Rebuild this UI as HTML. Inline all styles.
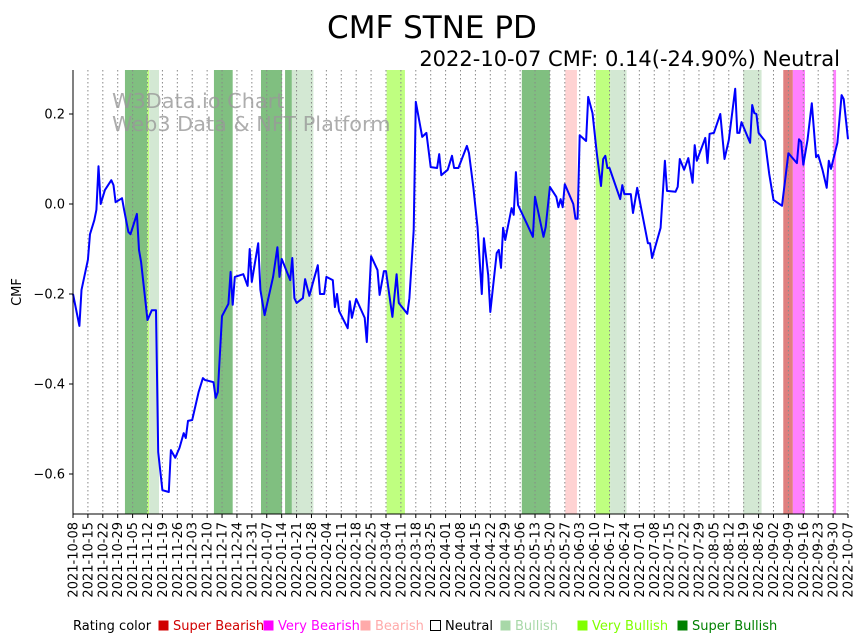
<!DOCTYPE html>
<html><head><meta charset="utf-8"><style>
body{margin:0;background:#fff;width:864px;height:641px;overflow:hidden;font-family:"DejaVu Sans","Liberation Sans",sans-serif}
svg{display:block}
</style></head><body>
<svg id="chart" width="864" height="641" xmlns="http://www.w3.org/2000/svg" font-family="DejaVu Sans, Liberation Sans, sans-serif">
<text x="432" y="38" text-anchor="middle" font-size="31">CMF STNE PD</text>
<text x="840" y="66" text-anchor="end" font-size="21">2022-10-07 CMF: 0.14(-24.90%) Neutral</text>
<g id="bands"></g>
<g id="grid"></g>
<text x="112" y="108" font-size="20.8" fill="#999" fill-opacity="0.8">W3Data.io Chart</text>
<text x="112" y="131" font-size="20.8" fill="#999" fill-opacity="0.8">Web3 Data &amp; NFT Platform</text>
<path id="line" fill="none" stroke="#0000ff" stroke-width="2" stroke-linejoin="round"/>
<g id="axes"></g>
<text transform="translate(21,292) rotate(-90)" text-anchor="middle" font-size="13">CMF</text>
<g id="legend"></g>
</svg>
<script>
const days=[0,3,4,7,8,10,11,12,13,15,18,19,20,23,24,26,27,30,31,32,35,37,39,40,42,45,46,48,50,52,53,54,56,59,61,62,66,67,68,70,73,74,75,76,80,82,83,84,87,88,90,94,96,97,98,102,103,104,105,108,109,111,115,116,118,119,122,123,124,125,129,130,131,133,137,138,140,143,144,146,147,150,152,153,157,158,160,161,164,166,168,171,172,173,176,178,179,181,185,186,188,190,192,193,195,196,199,200,201,202,203,206,207,208,209,213,216,217,221,222,224,227,228,229,230,231,235,236,237,238,241,242,244,246,248,249,250,251,252,257,258,259,262,263,265,270,271,272,276,278,279,283,284,285,287,289,291,292,293,297,298,299,301,304,306,308,311,312,313,314,318,319,320,321,322,325,327,329,333,336,340,341,342,343,345,347,349,350,352,354,355,356,359,361,362,364];
const cmf=[-0.2,-0.271,-0.191,-0.124,-0.067,-0.036,-0.013,0.084,0.0,0.031,0.053,0.042,0.004,0.013,-0.013,-0.062,-0.067,-0.022,-0.102,-0.129,-0.258,-0.236,-0.236,-0.551,-0.636,-0.64,-0.547,-0.564,-0.542,-0.509,-0.52,-0.482,-0.48,-0.418,-0.387,-0.391,-0.396,-0.431,-0.418,-0.249,-0.222,-0.151,-0.224,-0.162,-0.156,-0.182,-0.1,-0.173,-0.087,-0.191,-0.247,-0.162,-0.096,-0.162,-0.122,-0.169,-0.12,-0.209,-0.22,-0.209,-0.167,-0.204,-0.136,-0.2,-0.2,-0.162,-0.169,-0.229,-0.2,-0.238,-0.276,-0.216,-0.253,-0.211,-0.253,-0.307,-0.116,-0.147,-0.202,-0.149,-0.149,-0.251,-0.156,-0.22,-0.244,-0.209,-0.058,0.227,0.149,0.158,0.082,0.08,0.111,0.064,0.076,0.107,0.08,0.08,0.129,0.113,0.038,-0.051,-0.2,-0.076,-0.158,-0.24,-0.109,-0.102,-0.142,-0.053,-0.08,-0.009,-0.024,0.071,-0.002,-0.042,-0.073,0.016,-0.073,-0.051,0.038,0.016,-0.007,0.011,-0.007,0.044,0.0,-0.033,-0.033,0.153,0.14,0.238,0.202,0.113,0.04,0.1,0.107,0.08,0.08,0.011,0.042,0.022,0.022,-0.02,0.036,-0.087,-0.087,-0.12,-0.053,0.096,0.029,0.027,0.038,0.1,0.076,0.102,0.047,0.131,0.096,0.147,0.091,0.156,0.158,0.2,0.1,0.142,0.256,0.158,0.158,0.182,0.136,0.22,0.202,0.2,0.158,0.14,0.067,0.009,-0.004,0.113,0.091,0.144,0.138,0.087,0.142,0.224,0.104,0.109,0.076,0.036,0.096,0.078,0.136,0.242,0.233,0.144];
const bandStart=[24.4,34.8,35.8,66.2,88.3,99.6,102.8,147.3,210.8,231.2,245.5,252.3,314.8,333.6,338.1,357.1];
const bandEnd=[34.8,35.8,40.4,75.0,98.2,102.8,112.9,155.9,224.0,236.7,252.3,260.0,323.4,338.1,343.8,358.4];
const bandColor=["#80bf80","#bfff80","#d3e8d3","#80bf80","#80bf80","#80bf80","#d3e8d3","#bfff80","#80bf80","#ffd2d2","#bfff80","#d3e8d3","#d3e8d3","#e07f7f","#ff80ff","#ff80ff"];
const yTicks=[0.2,0.0,-0.2,-0.4,-0.6];
const yTickLabels=["0.2","0.0","\u22120.2","\u22120.4","\u22120.6"];
const legendLabels=["Super Bearish","Very Bearish","Bearish","Neutral","Bullish","Very Bullish","Super Bullish"];
const legendColors=["#d00000","#ff00ff","#ffaaaa","#ffffff","#a8d8a8","#80ff00","#008000"];
const legendX=[158,263,360,430,500,577,677];

const NS="http://www.w3.org/2000/svg";
const X0=73,X1=848,Y0=70,Y1=514;
const xs=d=>X0+d*(X1-X0)/364;
const ys=v=>204-v*450;
function mk(tag,attrs,parent){const e=document.createElementNS(NS,tag);for(const k in attrs)e.setAttribute(k,attrs[k]);parent.appendChild(e);return e;}
const bands=document.getElementById('bands');
bandStart.forEach((s,i)=>{const r=mk('rect',{x:xs(s),y:Y0,width:xs(bandEnd[i])-xs(s),height:Y1-Y0,fill:bandColor[i]},bands);

});
const grid=document.getElementById('grid');const axes=document.getElementById('axes');
const start=new Date(Date.UTC(2021,9,8));
for(let w=0;w<=52;w++){const d=w*7;const x=xs(d);
const gl=mk('line',{x1:x,x2:x,y1:Y0,y2:Y1,stroke:'#888','stroke-width':1,'stroke-dasharray':'1.5,2.5'},grid);


const tk=mk('line',{x1:x,x2:x,y1:Y1,y2:Y1+4,stroke:'#000'},axes);


const dt=new Date(start.getTime()+d*86400000);const lab=dt.toISOString().slice(0,10);
const t=mk('text',{transform:`translate(${x+4.5},${Y1+8}) rotate(-90)`,'text-anchor':'end','font-size':13},axes);t.textContent=lab;

}
yTicks.forEach((v,i)=>{const y=ys(v);
const tk=mk('line',{x1:X0-4,x2:X0,y1:y,y2:y,stroke:'#000'},axes);


const t=mk('text',{x:X0-8,y:y+4.5,'text-anchor':'end','font-size':13},axes);t.textContent=yTickLabels[i];

});
const la=mk('line',{x1:X0,x2:X0,y1:Y0,y2:Y1,stroke:'#000'},axes);


const lb=mk('line',{x1:X0,x2:X1,y1:Y1,y2:Y1,stroke:'#000'},axes);


document.getElementById('line').setAttribute('d',days.map((d,i)=>(i?'L':'M')+xs(d).toFixed(1)+','+ys(cmf[i]).toFixed(1)).join(''));
const lg=document.getElementById('legend');
const lt=mk('text',{x:73,y:630,'font-size':13},lg);lt.textContent='Rating color';


legendLabels.forEach((l,i)=>{const x=legendX[i];
const r=mk('rect',{x:x+0.5,y:620.5,width:10,height:10,fill:legendColors[i],stroke:i==3?'#000':'none'},lg);


const t=mk('text',{x:x+15,y:630,'font-size':13,fill:i==3?'#000':legendColors[i]},lg);t.textContent=l;

});
</script>
</body></html>
